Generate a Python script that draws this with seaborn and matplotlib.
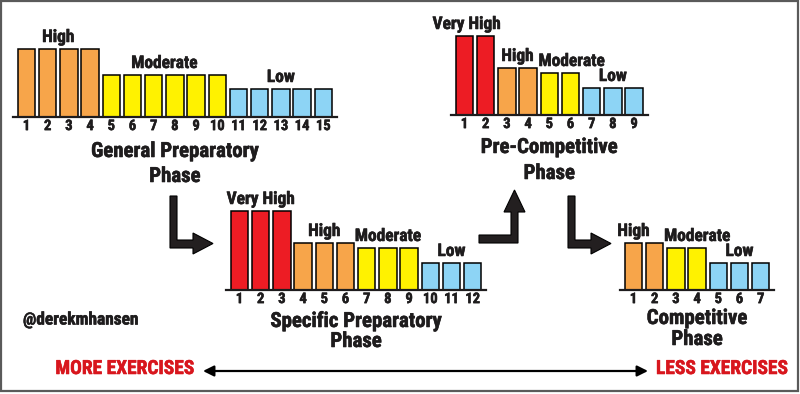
import matplotlib
matplotlib.use("Agg")
import matplotlib.pyplot as plt
import matplotlib.patheffects as pe
import seaborn as sns
import pandas as pd
from matplotlib import font_manager
from matplotlib.patches import Polygon, Rectangle

# training load per session (relative bar heights)
gpp_levels = ["High", "High", "High", "High",
              "Moderate", "Moderate", "Moderate", "Moderate", "Moderate", "Moderate",
              "Low", "Low", "Low", "Low", "Low"]
gpp_values = [68, 68, 68, 68, 42, 42, 42, 42, 42, 42, 28, 28, 28, 28, 28]

spp_levels = ["Very High", "Very High", "Very High", "High", "High", "High",
              "Moderate", "Moderate", "Moderate", "Low", "Low", "Low"]
spp_values = [79, 79, 79, 47, 47, 47, 42, 42, 42, 27, 27, 27]

pcp_levels = ["Very High", "Very High", "High", "High", "Moderate", "Moderate",
              "Low", "Low", "Low"]
pcp_values = [79, 79, 47, 47, 42, 42, 27, 27, 27]

comp_levels = ["High", "High", "Moderate", "Moderate", "Low", "Low", "Low"]
comp_values = [47, 47, 42, 42, 27, 27, 27]

LEVEL_COLORS = {"Very High": "#ED1C24", "High": "#F7A54A",
                "Moderate": "#FFF200", "Low": "#8DD4F5"}
INK = "#1E1C1D"
RED_TEXT = "#D8161D"

sns.set_style("white")

# pick a condensed face that actually ships a bold weight
fonts = font_manager.fontManager.ttflist


def has_bold(name):
    for f in fonts:
        w = f.weight
        if f.name == name and (w in ("bold", "heavy", "black", "semibold", "demibold")
                               or (isinstance(w, (int, float)) and w >= 600)):
            return True
    return False


candidates = ["Oswald", "Roboto Condensed", "Liberation Sans Narrow",
              "Open Sans Condensed"]
names = {f.name for f in fonts}
FONT = next((c for c in candidates if has_bold(c)), None)
BOLD_OK = FONT is not None
if FONT is None:
    FONT = next((c for c in candidates if c in names), "Liberation Sans")
plt.rcParams["font.family"] = [FONT, "DejaVu Sans"]


def heavy(color, w=1.0):
    # fake extra weight when the condensed face has no bold file
    if BOLD_OK:
        return [pe.withStroke(linewidth=0.4, foreground=color)]
    return [pe.withStroke(linewidth=w, foreground=color)]


W, H = 800, 394
PITCH = 21.2
MARGIN = 0.65

fig = plt.figure(figsize=(W / 100, H / 100), dpi=100)
fig.patch.set_facecolor("white")


def draw_panel(levels, values, title, c0, base, gaps, offsets):
    n = len(values)
    df = pd.DataFrame({"session": [str(i + 1) for i in range(n)],
                       "load": values, "level": levels})
    left = c0 - MARGIN * PITCH
    width = (n - 1 + 2 * MARGIN) * PITCH
    ax = fig.add_axes([left / W, 1 - base / H, width / W, 100 / H])
    sns.barplot(data=df, x="session", y="load", hue="level", palette=LEVEL_COLORS,
                dodge=False, width=0.82, saturation=1, edgecolor="black",
                linewidth=1.1, legend=False, ax=ax)
    ax.set_xlim(-MARGIN, n - 1 + MARGIN)
    ax.set_ylim(0, 100)
    sns.despine(ax=ax, left=True)
    ax.spines["bottom"].set_linewidth(1.6)
    ax.spines["bottom"].set_color(INK)
    ax.set_yticks([])
    ax.set_xlabel("")
    ax.set_ylabel("")
    ax.patch.set_alpha(0)
    ax.tick_params(axis="x", length=0, pad=1.5, labelsize=10.5, labelcolor=INK)
    for lbl in ax.get_xticklabels():
        lbl.set_fontweight("bold")
        lbl.set_path_effects(heavy(INK, 0.8))

    # intensity labels above each group
    for lvl in dict.fromkeys(levels):
        idx = [i for i, l in enumerate(levels) if l == lvl]
        xc = (idx[0] + idx[-1]) / 2 + offsets.get(lvl, 0)
        top = max(values[i] for i in idx)
        ax.text(xc, top + 7, lvl, ha="center", va="baseline", fontsize=12.5,
                fontweight="bold", color=INK, path_effects=heavy(INK, 1.0))

    xm = (n - 1) / 2
    for line, gap in zip(title, gaps):
        ax.text(xm, -gap, line, ha="center", va="baseline", fontsize=15,
                fontweight="bold", color=INK, clip_on=False,
                path_effects=heavy(INK, 1.3))


draw_panel(gpp_levels, gpp_values, ["General Preparatory", "Phase"],
           26.5, 117, (40, 65), {})
draw_panel(spp_levels, spp_values, ["Specific Preparatory", "Phase"],
           239.5, 290, (37, 57), {})
draw_panel(pcp_levels, pcp_values, ["Pre-Competitive", "Phase"],
           464.5, 115, (38, 64), {"Very High": -0.4, "Moderate": 0.55})
draw_panel(comp_levels, comp_values, ["Competitive", "Phase"],
           633.5, 290, (34, 55), {"High": -0.5, "Moderate": 0.5})

# overlay in pixel space for arrows, captions and frame
ov = fig.add_axes([0, 0, 1, 1])
ov.set_xlim(0, W)
ov.set_ylim(H, 0)
ov.axis("off")

down_right = [(170, 196), (177, 196), (177, 240), (193, 240), (193, 233),
              (213, 243.5), (193, 254), (193, 248), (170, 248)]
right_up = [(479, 235), (511, 235), (511, 212), (504, 212), (514.5, 190),
            (525, 212), (518, 212), (518, 243), (479, 243)]
for pts in [down_right, right_up, [(x + 398, y) for x, y in down_right]]:
    ov.add_patch(Polygon(pts, closed=True, facecolor="#231F20",
                         edgecolor="black", linewidth=0.8))

ov.annotate("", xy=(203, 371), xytext=(648, 371),
            arrowprops=dict(arrowstyle="<|-|>", color="black", lw=1.6,
                            mutation_scale=16, shrinkA=0, shrinkB=0))
ov.text(195, 369, "MORE EXERCISES", ha="right", va="center", fontsize=14,
        fontweight="bold", color=RED_TEXT, path_effects=heavy(RED_TEXT, 1.3))
ov.text(656, 369, "LESS EXERCISES", ha="left", va="center", fontsize=14,
        fontweight="bold", color=RED_TEXT, path_effects=heavy(RED_TEXT, 1.3))
ov.text(23, 320, "@derekmhansen", ha="left", va="center", fontsize=12.5,
        fontweight="bold", color=INK, path_effects=heavy(INK, 1.0))

ov.add_patch(Rectangle((1, 1), 797, 390, fill=False, edgecolor="#5A5A5A",
                       linewidth=1.6))

fig.savefig("out.png", dpi=100)
